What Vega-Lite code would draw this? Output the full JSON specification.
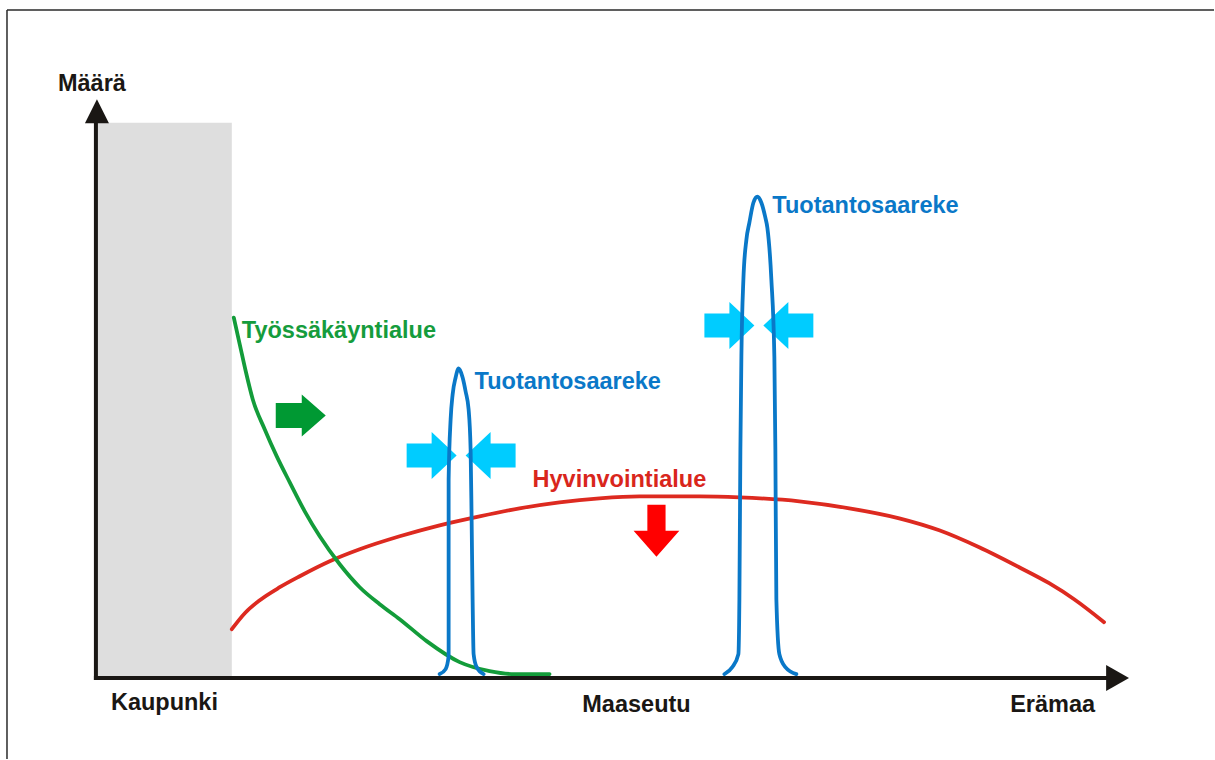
{
  "$schema": "https://vega.github.io/schema/vega-lite/v6.json",
  "width": 1215,
  "height": 760,
  "autosize": {"type": "fit", "contains": "padding"},
  "padding": 0,
  "background": "white",
  "config": {"view": {"stroke": null}},
  "resolve": {"scale": {"color": "independent"}},
  "datasets": {
    "frame": [
      {"x": 7, "y": 0, "x2": 7, "y2": 750},
      {"x": 7, "y": 750, "x2": 1215, "y2": 750}
    ],
    "city": [{"x": 97, "y": 79, "x2": 232, "y2": 637}],
    "axes": [
      {"x": 96, "y": 79, "x2": 96, "y2": 640},
      {"x": 94, "y": 81, "x2": 1110, "y2": 81}
    ],
    "curves": [
      {"series": "red", "i": 1, "x": 232, "y": 130},
      {"series": "red", "i": 2, "x": 245, "y": 146},
      {"series": "red", "i": 3, "x": 260, "y": 159},
      {"series": "red", "i": 4, "x": 280, "y": 172},
      {"series": "red", "i": 5, "x": 300, "y": 183},
      {"series": "red", "i": 6, "x": 330, "y": 198},
      {"series": "red", "i": 7, "x": 360, "y": 210},
      {"series": "red", "i": 8, "x": 400, "y": 223},
      {"series": "red", "i": 9, "x": 440, "y": 234},
      {"series": "red", "i": 10, "x": 480, "y": 243},
      {"series": "red", "i": 11, "x": 520, "y": 251},
      {"series": "red", "i": 12, "x": 560, "y": 257},
      {"series": "red", "i": 13, "x": 600, "y": 261},
      {"series": "red", "i": 14, "x": 640, "y": 263},
      {"series": "red", "i": 15, "x": 700, "y": 263},
      {"series": "red", "i": 16, "x": 740, "y": 262},
      {"series": "red", "i": 17, "x": 800, "y": 258},
      {"series": "red", "i": 18, "x": 850, "y": 251},
      {"series": "red", "i": 19, "x": 900, "y": 241},
      {"series": "red", "i": 20, "x": 940, "y": 229},
      {"series": "red", "i": 21, "x": 980, "y": 212},
      {"series": "red", "i": 22, "x": 1020, "y": 192},
      {"series": "red", "i": 23, "x": 1050, "y": 176},
      {"series": "red", "i": 24, "x": 1075, "y": 160},
      {"series": "red", "i": 25, "x": 1105, "y": 137},
      {"series": "green", "i": 1, "x": 234, "y": 442},
      {"series": "green", "i": 2, "x": 240, "y": 415},
      {"series": "green", "i": 3, "x": 246, "y": 388},
      {"series": "green", "i": 4, "x": 253, "y": 360},
      {"series": "green", "i": 5, "x": 265, "y": 330},
      {"series": "green", "i": 6, "x": 277, "y": 303},
      {"series": "green", "i": 7, "x": 290, "y": 277},
      {"series": "green", "i": 8, "x": 305, "y": 248},
      {"series": "green", "i": 9, "x": 320, "y": 223},
      {"series": "green", "i": 10, "x": 340, "y": 195},
      {"series": "green", "i": 11, "x": 360, "y": 172},
      {"series": "green", "i": 12, "x": 380, "y": 155},
      {"series": "green", "i": 13, "x": 400, "y": 140},
      {"series": "green", "i": 14, "x": 427, "y": 118},
      {"series": "green", "i": 15, "x": 460, "y": 97},
      {"series": "green", "i": 16, "x": 490, "y": 88},
      {"series": "green", "i": 17, "x": 515, "y": 85},
      {"series": "green", "i": 18, "x": 550, "y": 85},
      {"series": "peak1", "i": 1, "x": 440, "y": 85},
      {"series": "peak1", "i": 2, "x": 446, "y": 90},
      {"series": "peak1", "i": 3, "x": 449, "y": 103},
      {"series": "peak1", "i": 4, "x": 449, "y": 160},
      {"series": "peak1", "i": 5, "x": 449, "y": 280},
      {"series": "peak1", "i": 6, "x": 451, "y": 340},
      {"series": "peak1", "i": 7, "x": 453, "y": 365},
      {"series": "peak1", "i": 8, "x": 456, "y": 382},
      {"series": "peak1", "i": 9, "x": 459, "y": 391},
      {"series": "peak1", "i": 10, "x": 463, "y": 382},
      {"series": "peak1", "i": 11, "x": 466, "y": 368},
      {"series": "peak1", "i": 12, "x": 469, "y": 350},
      {"series": "peak1", "i": 13, "x": 471, "y": 310},
      {"series": "peak1", "i": 14, "x": 472, "y": 240},
      {"series": "peak1", "i": 15, "x": 473, "y": 160},
      {"series": "peak1", "i": 16, "x": 474, "y": 105},
      {"series": "peak1", "i": 17, "x": 477, "y": 92},
      {"series": "peak1", "i": 18, "x": 484, "y": 85},
      {"series": "peak2", "i": 1, "x": 725, "y": 85},
      {"series": "peak2", "i": 2, "x": 733, "y": 92},
      {"series": "peak2", "i": 3, "x": 739, "y": 105},
      {"series": "peak2", "i": 4, "x": 740, "y": 160},
      {"series": "peak2", "i": 5, "x": 741, "y": 310},
      {"series": "peak2", "i": 6, "x": 742, "y": 403},
      {"series": "peak2", "i": 7, "x": 744, "y": 480},
      {"series": "peak2", "i": 8, "x": 747, "y": 520},
      {"series": "peak2", "i": 9, "x": 750, "y": 537},
      {"series": "peak2", "i": 10, "x": 754, "y": 557},
      {"series": "peak2", "i": 11, "x": 758, "y": 563},
      {"series": "peak2", "i": 12, "x": 762, "y": 557},
      {"series": "peak2", "i": 13, "x": 766, "y": 542},
      {"series": "peak2", "i": 14, "x": 768, "y": 532},
      {"series": "peak2", "i": 15, "x": 772, "y": 480},
      {"series": "peak2", "i": 16, "x": 775, "y": 403},
      {"series": "peak2", "i": 17, "x": 776, "y": 310},
      {"series": "peak2", "i": 18, "x": 777, "y": 160},
      {"series": "peak2", "i": 19, "x": 780, "y": 105},
      {"series": "peak2", "i": 20, "x": 786, "y": 92},
      {"series": "peak2", "i": 21, "x": 797, "y": 85}
    ],
    "arrows": [
      {"kind": "cyanRight", "x": 432, "y": 304},
      {"kind": "cyanLeft", "x": 491, "y": 304},
      {"kind": "cyanRight", "x": 730, "y": 434},
      {"kind": "cyanLeft", "x": 789, "y": 434},
      {"kind": "greenRight", "x": 301, "y": 344},
      {"kind": "redDown", "x": 657, "y": 228.5},
      {"kind": "axisUp", "x": 97, "y": 648.5},
      {"kind": "axisRight", "x": 1118.5, "y": 81}
    ],
    "labels": [
      {"kind": "black", "align": "left", "x": 58, "y": 669, "text": "Määrä"},
      {"kind": "black", "align": "left", "x": 111, "y": 49, "text": "Kaupunki"},
      {"kind": "black", "align": "center", "x": 637, "y": 47, "text": "Maaseutu"},
      {"kind": "black", "align": "left", "x": 1011, "y": 47, "text": "Erämaa"},
      {"kind": "green", "align": "left", "x": 242, "y": 422, "text": "Työssäkäyntialue"},
      {"kind": "blue", "align": "left", "x": 475, "y": 370, "text": "Tuotantosaareke"},
      {"kind": "blue", "align": "left", "x": 773, "y": 547, "text": "Tuotantosaareke"},
      {"kind": "red", "align": "left", "x": 533, "y": 272, "text": "Hyvinvointialue"}
    ]
  },
  "encoding": {
    "x": {"field": "x", "type": "quantitative", "scale": {"domain": [0, 1215], "nice": false, "zero": false}, "axis": null},
    "y": {"field": "y", "type": "quantitative", "scale": {"domain": [0, 760], "nice": false, "zero": false}, "axis": null}
  },
  "layer": [
    {
      "data": {"name": "frame"},
      "mark": {"type": "rule", "color": "#2a2a2a", "strokeWidth": 1.5},
      "encoding": {"x2": {"field": "x2"}, "y2": {"field": "y2"}}
    },
    {
      "data": {"name": "city"},
      "mark": {"type": "rect", "color": "#dedede"},
      "encoding": {"x2": {"field": "x2"}, "y2": {"field": "y2"}}
    },
    {
      "data": {"name": "arrows"},
      "transform": [{"filter": "datum.kind === 'cyanRight'"}],
      "mark": {"type": "point", "filled": true, "opacity": 1, "strokeWidth": 0, "color": "#00ccff", "size": 2500, "shape": "M-1,-0.48 L0,-0.48 L0,-0.94 L1,0 L0,0.94 L0,0.48 L-1,0.48 Z"}
    },
    {
      "data": {"name": "arrows"},
      "transform": [{"filter": "datum.kind === 'cyanLeft'"}],
      "mark": {"type": "point", "filled": true, "opacity": 1, "strokeWidth": 0, "color": "#00ccff", "size": 2500, "shape": "M1,-0.48 L0,-0.48 L0,-0.94 L-1,0 L0,0.94 L0,0.48 L1,0.48 Z"}
    },
    {
      "data": {"name": "curves"},
      "mark": {"type": "line", "strokeWidth": 3.8, "strokeJoin": "round", "strokeCap": "round", "interpolate": "monotone"},
      "encoding": {
        "order": {"field": "i", "type": "quantitative"},
        "detail": {"field": "series", "type": "nominal"},
        "color": {"field": "series", "type": "nominal", "legend": null,
          "scale": {"domain": ["red", "green", "peak1", "peak2"], "range": ["#dd2a20", "#139c3a", "#0a78c8", "#0a78c8"]}}
      }
    },
    {
      "data": {"name": "axes"},
      "mark": {"type": "rule", "color": "#1a1714", "strokeWidth": 4},
      "encoding": {"x2": {"field": "x2"}, "y2": {"field": "y2"}}
    },
    {
      "data": {"name": "arrows"},
      "transform": [{"filter": "datum.kind === 'axisUp'"}],
      "mark": {"type": "point", "filled": true, "opacity": 1, "strokeWidth": 0, "color": "#1a1714", "size": 576, "shape": "M0,-1 L1,1 L-1,1 Z"}
    },
    {
      "data": {"name": "arrows"},
      "transform": [{"filter": "datum.kind === 'axisRight'"}],
      "mark": {"type": "point", "filled": true, "opacity": 1, "strokeWidth": 0, "color": "#1a1714", "size": 676, "shape": "M-0.88,-1 L0.88,0 L-0.88,1 Z"}
    },
    {
      "data": {"name": "arrows"},
      "transform": [{"filter": "datum.kind === 'greenRight'"}],
      "mark": {"type": "point", "filled": true, "opacity": 1, "strokeWidth": 0, "color": "#009933", "size": 2500, "shape": "M-1,-0.5 L0.04,-0.5 L0.04,-0.84 L1,0 L0.04,0.84 L0.04,0.5 L-1,0.5 Z"}
    },
    {
      "data": {"name": "arrows"},
      "transform": [{"filter": "datum.kind === 'redDown'"}],
      "mark": {"type": "point", "filled": true, "opacity": 1, "strokeWidth": 0, "color": "#ff0000", "size": 2704, "shape": "M-0.35,-1 L0.35,-1 L0.35,0 L0.88,0 L0,1 L-0.88,0 L-0.35,0 Z"}
    },
    {
      "data": {"name": "labels"},
      "transform": [{"filter": "datum.align === 'left'"}],
      "mark": {"type": "text", "align": "left", "baseline": "alphabetic", "font": "Liberation Sans", "fontWeight": "bold", "fontSize": 23.5},
      "encoding": {
        "text": {"field": "text"},
        "color": {"field": "kind", "type": "nominal", "legend": null,
          "scale": {"domain": ["black", "green", "blue", "red"], "range": ["#1a1714", "#159c3c", "#0a78c8", "#d9261c"]}}
      }
    },
    {
      "data": {"name": "labels"},
      "transform": [{"filter": "datum.align === 'center'"}],
      "mark": {"type": "text", "align": "center", "baseline": "alphabetic", "font": "Liberation Sans", "fontWeight": "bold", "fontSize": 23.5, "color": "#1a1714"},
      "encoding": {
        "text": {"field": "text"}
      }
    }
  ]
}
